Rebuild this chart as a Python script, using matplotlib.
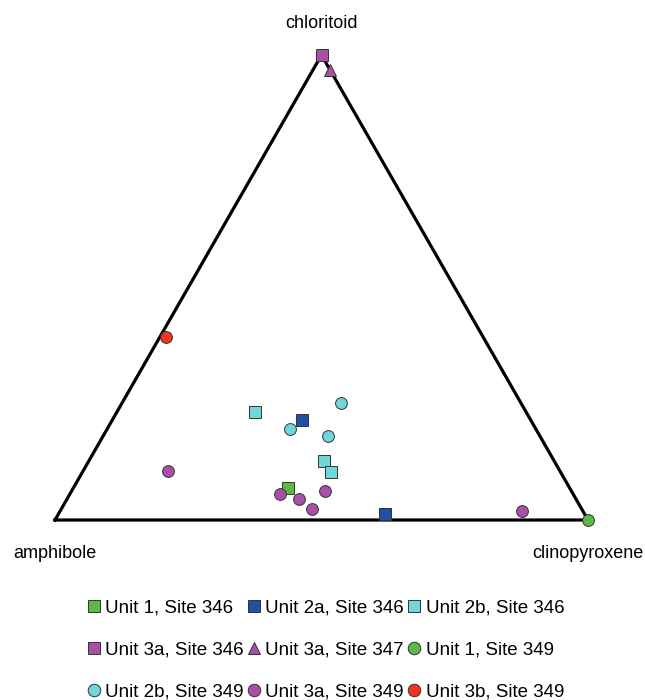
"""Ternary plot of chloritoid - amphibole - clinopyroxene
"""
import numpy as np
import matplotlib
matplotlib.use('Agg')
import matplotlib.pyplot as plt
from matplotlib.lines import Line2D

plt.rcParams['font.family'] = ['Liberation Sans', 'DejaVu Sans']

# (amphibole, clinopyroxene, chloritoid) fractions per group
unit1_346 = [(0.528, 0.403, 0.069)]
unit2a_346 = [(0.429, 0.356, 0.215), (0.374, 0.613, 0.013)]
unit2b_346 = [(0.509, 0.259, 0.232), (0.432, 0.441, 0.127), (0.431, 0.466, 0.103)]
unit3a_346 = [(0.0, 0.0, 1.0)]
unit3a_347 = [(0.0, 0.032, 0.968)]
unit1_349 = [(0.0, 1.0, 0.0)]
unit2b_349 = [(0.337, 0.411, 0.252), (0.461, 0.343, 0.196), (0.397, 0.422, 0.181)]
unit3a_349 = [(0.736, 0.159, 0.105), (0.550, 0.394, 0.056), (0.520, 0.435, 0.045),
              (0.506, 0.470, 0.024), (0.462, 0.476, 0.062), (0.115, 0.866, 0.019)]
unit3b_349 = [(0.595, 0.011, 0.394)]

GREEN = '#5cb946'
BLUE = '#1f4fa6'
CYAN = '#6fd6dc'
PURPLE = '#a94fa9'
RED = '#f2341a'

# label, data, marker, colour (in row order of the legend)
groups = [
    ('Unit 1, Site 346', unit1_346, 's', GREEN),
    ('Unit 2a, Site 346', unit2a_346, 's', BLUE),
    ('Unit 2b, Site 346', unit2b_346, 's', CYAN),
    ('Unit 3a, Site 346', unit3a_346, 's', PURPLE),
    ('Unit 3a, Site 347', unit3a_347, '^', PURPLE),
    ('Unit 1, Site 349', unit1_349, 'o', GREEN),
    ('Unit 2b, Site 349', unit2b_349, 'o', CYAN),
    ('Unit 3a, Site 349', unit3a_349, 'o', PURPLE),
    ('Unit 3b, Site 349', unit3b_349, 'o', RED),
]

H = np.sqrt(3) / 2


def to_xy(points):
    pts = np.array(points, dtype=float)
    pts = pts / pts.sum(axis=1, keepdims=True)
    x = pts[:, 1] + pts[:, 2] / 2
    y = pts[:, 2] * H
    return x, y


fig = plt.figure(figsize=(6.45, 7.0), dpi=100)
ax = fig.add_axes([0, 0, 1, 1])
sx = 533.0
sy = 465.0 / H
ax.set_xlim(-55 / sx, (645 - 55) / sx)
ax.set_ylim(-(700 - 520) / sy, 520 / sy)
ax.axis('off')

# triangle outline
ax.plot([0, 1, 0.5, 0], [0, 0, H, 0], color='black', lw=2.3,
        solid_joinstyle='miter', zorder=1)

handles = []
for label, data, marker, color in groups:
    x, y = to_xy(data)
    ms = 8.5 if marker != '^' else 9
    ax.plot(x, y, linestyle='none', marker=marker, ms=ms,
            markerfacecolor=color, markeredgecolor='#333333',
            markeredgewidth=0.7, zorder=3, clip_on=False)
    handles.append(Line2D([], [], linestyle='none', marker=marker, ms=9,
                          markerfacecolor=color, markeredgecolor='#333333',
                          markeredgewidth=0.7, label=label))

ax.text(0.5, H + 32 / sy, 'chloritoid', ha='center', va='center', fontsize=13)
ax.text(0.0, -33 / sy, 'amphibole', ha='center', va='center', fontsize=13)
ax.text(1.0, -33 / sy, 'clinopyroxene', ha='center', va='center', fontsize=13)

# legend fills column-wise, so reorder for row-wise reading
order = [0, 3, 6, 1, 4, 7, 2, 5, 8]
leg = fig.legend([handles[i] for i in order],
                 [handles[i].get_label() for i in order],
                 loc='center', bbox_to_anchor=(0.505, 0.0714), ncol=3,
                 frameon=False, fontsize=13.5, handlelength=0.7,
                 handletextpad=0.25, columnspacing=0.2, labelspacing=1.32)

fig.savefig('out.png', dpi=100)
